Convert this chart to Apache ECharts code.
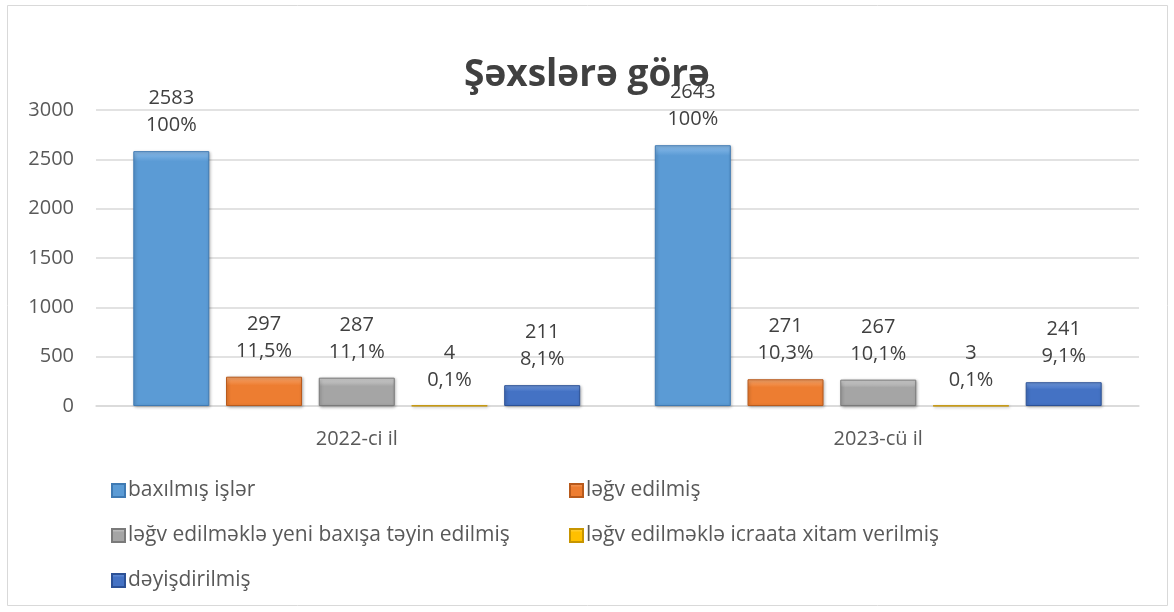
<!DOCTYPE html>
<html>
<head>
<meta charset="utf-8">
<script src="https://cdn.jsdelivr.net/npm/echarts@6/dist/echarts.min.js"></script>
<style>
  html, body { margin: 0; padding: 0; background: #fff; }
  #chart { width: 1174px; height: 612px; }
</style>
</head>
<body>
<div id="chart"></div>
<script>
const years = ["2022-ci il", "2023-cü il"];
const seriesNames = [
    "baxılmış işlər",
    "ləğv edilmiş",
    "ləğv edilməklə yeni baxışa təyin edilmiş",
    "ləğv edilməklə icraata xitam verilmiş",
    "dəyişdirilmiş"
];
const baxilmis = [2583, 2643];
const legvEdilmis = [297, 271];
const yeniBaxis = [287, 267];
const icraataXitam = [4, 3];
const deyisdirilmis = [211, 241];

const baxilmisPct = ["100%", "100%"];
const legvEdilmisPct = ["11,5%", "10,3%"];
const yeniBaxisPct = ["11,1%", "10,1%"];
const icraataXitamPct = ["0,1%", "0,1%"];
const deyisdirilmisPct = ["8,1%", "9,1%"];

const yTicks = [0, 500, 1000, 1500, 2000, 2500, 3000];

const values = [baxilmis, legvEdilmis, yeniBaxis, icraataXitam, deyisdirilmis];
const pcts = [baxilmisPct, legvEdilmisPct, yeniBaxisPct, icraataXitamPct, deyisdirilmisPct];

// light, base, dark tones per series
const tones = [
    ["#8cbdeb", "#5b9bd5", "#3f7ab3"],
    ["#f8a66c", "#ed7d31", "#b85a1c"],
    ["#d6d6d6", "#a5a5a5", "#7a7a7a"],
    ["#ffd95c", "#ffc000", "#c79500"],
    ["#759ee3", "#4472c4", "#2c5196"]
];

const font = "'Open Sans', 'Noto Sans', sans-serif";

const series = seriesNames.map((name, i) => ({
    name: name,
    type: "bar",
    barWidth: 76,
    barGap: "22%",
    data: values[i],
    itemStyle: {
        color: {
            type: "linear", x: 0, y: 0, x2: 0, y2: 1,
            colorStops: [
                { offset: 0, color: tones[i][0] },
                { offset: values[i][0] > 1000 ? 0.04 : 0.3, color: tones[i][1] },
                { offset: 1, color: tones[i][1] }
            ]
        },
        borderColor: tones[i][2],
        borderWidth: 1,
        shadowColor: "rgba(0,0,0,0.3)",
        shadowBlur: 3,
        shadowOffsetX: 1,
        shadowOffsetY: 1
    },
    label: {
        show: true,
        position: "top",
        distance: 12,
        fontFamily: font,
        fontSize: 20,
        lineHeight: 27,
        color: "#404040",
        formatter: (p) => values[i][p.dataIndex] + "\n" + pcts[i][p.dataIndex]
    }
}));

const legendBase = {
    orient: "vertical",
    top: 475,
    itemGap: 24,
    itemWidth: 13,
    itemHeight: 13,
    icon: "rect",
    textStyle: { fontFamily: font, fontSize: 21, color: "#595959", padding: [0, 0, 0, -2] }
};

const chart = echarts.init(document.getElementById("chart"));

chart.setOption({
    animation: false,
    backgroundColor: "#fff",
    title: {
        text: "Şəxslərə görə",
        left: "center",
        top: 52,
        textStyle: { fontFamily: font, fontSize: 37, fontWeight: "bold", color: "#404040" }
    },
    graphic: [{
        type: "rect",
        shape: { x: 7.5, y: 5.5, width: 1160, height: 600 },
        style: { fill: "none", stroke: "#d9d9d9", lineWidth: 1 },
        silent: true
    }],
    legend: [
        Object.assign({}, legendBase, { left: 106, data: [seriesNames[0], seriesNames[2], seriesNames[4]] }),
        Object.assign({}, legendBase, { left: 564, data: [seriesNames[1], seriesNames[3]] })
    ],
    grid: { left: 96, right: 35, top: 110, bottom: 206, containLabel: false },
    xAxis: {
        type: "category",
        data: years,
        axisLine: { lineStyle: { color: "#d9d9d9", width: 1.5 } },
        axisTick: { show: false },
        axisLabel: { fontFamily: font, fontSize: 20, color: "#595959", margin: 23 }
    },
    yAxis: {
        type: "value",
        min: yTicks[0],
        max: yTicks[yTicks.length - 1],
        interval: yTicks[1] - yTicks[0],
        axisLine: { show: false },
        axisTick: { show: false },
        axisLabel: {
            fontFamily: font, fontSize: 20, color: "#595959", margin: 22,
            formatter: (v) => String(v)
        },
        splitLine: { lineStyle: { color: "#d9d9d9", width: 1.5 } }
    },
    series: series
});
</script>
</body>
</html>
